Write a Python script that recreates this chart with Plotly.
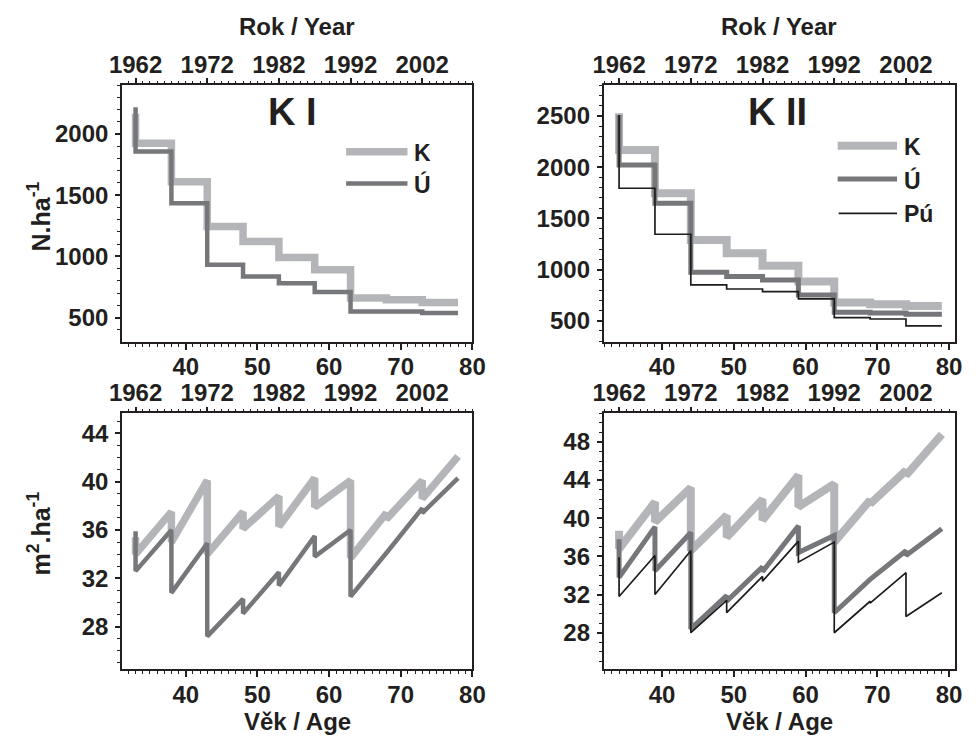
import plotly.graph_objects as go

W, H = 978, 736
OFF = 8  # default page body margin of the exported html
FONT = "Liberation Sans, Arial, sans-serif"
TXT = "#231f20"
FR = "#231f20"
C_K = "#b4b5b8"
C_U = "#76777a"
C_P = "#1c1c1c"

# ---------------- data ----------------
# Stand K I  (age, value before thinning, value after thinning)
ki_age = [33, 38, 43, 48, 53, 58, 63, 68, 73, 78]
ki_N_K_before = [2166, 1925, 1611, 1244, 1122, 991, 891, 660, 646, 624]
ki_N_K_after = [1925, 1611, 1244, 1122, 991, 891, 660, 646, 624, None]
ki_N_U_before = [2218, 1856, 1435, 932, 836, 782, 709, 551, 551, 538]
ki_N_U_after = [1856, 1435, 932, 836, 782, 709, 551, 551, 538, None]
ki_G_K_before = [35.4, 37.5, 40.1, 37.5, 38.8, 40.3, 40.1, 37.4, 40.1, 42.1]
ki_G_K_after = [34.0, 35.0, 34.0, 36.1, 36.3, 37.9, 33.7, 36.9, 38.6, None]
ki_G_U_before = [35.9, 36.0, 34.9, 30.3, 32.5, 35.5, 36.0, 34.1, 37.8, 40.3]
ki_G_U_after = [32.6, 30.8, 27.2, 29.1, 31.4, 33.8, 30.5, 34.1, 37.4, None]

# Stand K II
kii_age = [34, 39, 44, 49, 54, 59, 64, 69, 74, 79]
kii_N_K_before = [2526, 2168, 1745, 1289, 1159, 1038, 882, 677, 661, 645]
kii_N_K_after = [2168, 1745, 1289, 1159, 1038, 882, 677, 661, 645, None]
kii_N_U_before = [2510, 2021, 1647, 973, 931, 898, 752, 583, 576, 563]
kii_N_U_after = [2021, 1647, 973, 931, 898, 752, 583, 576, 563, None]
kii_N_P_before = [2510, 1794, 1345, 850, 810, 784, 713, 530, 517, 449]
kii_N_P_after = [1794, 1345, 850, 810, 784, 713, 530, 517, 449, None]
kii_G_K_before = [38.7, 41.7, 43.2, 40.3, 42.0, 44.5, 43.6, 41.9, 45.0, 48.8]
kii_G_K_after = [36.8, 39.6, 36.6, 38.0, 39.8, 41.2, 37.5, 41.5, 44.5, None]
kii_G_U_before = [37.8, 39.1, 38.5, 31.9, 34.9, 39.2, 38.2, 33.6, 36.6, 38.9]
kii_G_U_after = [33.8, 34.5, 28.4, 31.3, 34.4, 36.4, 30.1, 33.6, 36.1, None]
kii_G_P_before = [35.9, 36.1, 36.6, 31.4, 33.9, 37.6, 37.5, 31.3, 34.3, 32.2]
kii_G_P_after = [31.8, 32.0, 28.0, 30.1, 33.4, 35.4, 28.0, 31.1, 29.7, None]

age_ticks = [40, 50, 60, 70, 80]
year_ticks = [1962, 1972, 1982, 1992, 2002]
N_ticks_I = [500, 1000, 1500, 2000]
N_ticks_II = [500, 1000, 1500, 2000, 2500]
G_ticks_I = [28, 32, 36, 40, 44]
G_ticks_II = [28, 32, 36, 40, 44, 48]


def path(ages, before, after):
    xs, ys = [], []
    for a, b, c in zip(ages, before, after):
        xs.append(a)
        ys.append(b)
        if c is not None:
            xs.append(a)
            ys.append(c)
    return xs, ys


fig = go.Figure()


def add(ages, before, after, color, width, xa, ya):
    xs, ys = path(ages, before, after)
    fig.add_trace(go.Scatter(x=xs, y=ys, mode="lines", xaxis=xa, yaxis=ya,
                             line=dict(color=color, width=width),
                             showlegend=False, hoverinfo="skip"))


add(ki_age, ki_N_K_before, ki_N_K_after, C_K, 7.5, "x", "y")
add(ki_age, ki_N_U_before, ki_N_U_after, C_U, 4.5, "x", "y")
add(kii_age, kii_N_K_before, kii_N_K_after, C_K, 8, "x2", "y2")
add(kii_age, kii_N_U_before, kii_N_U_after, C_U, 5, "x2", "y2")
add(kii_age, kii_N_P_before, kii_N_P_after, C_P, 1.7, "x2", "y2")
add(ki_age, ki_G_K_before, ki_G_K_after, C_K, 7.5, "x3", "y3")
add(ki_age, ki_G_U_before, ki_G_U_after, C_U, 4.5, "x3", "y3")
add(kii_age, kii_G_K_before, kii_G_K_after, C_K, 8, "x4", "y4")
add(kii_age, kii_G_U_before, kii_G_U_after, C_U, 5, "x4", "y4")
add(kii_age, kii_G_P_before, kii_G_P_after, C_P, 1.7, "x4", "y4")

# helper (empty) traces so that the year axes are created
for xa, ya in [("x5", "y"), ("x6", "y2"), ("x7", "y3"), ("x8", "y4")]:
    fig.add_trace(go.Scatter(x=[], y=[], xaxis=xa, yaxis=ya, showlegend=False,
                             hoverinfo="skip"))


def px_x(p):
    return (p - OFF) / W


def px_y(p):
    return 1 - (p - OFF) / H


dom_L = [px_x(111.7), px_x(471.7)]
dom_R = [px_x(606.5), px_x(968.0)]
dom_T = [px_y(341.7), px_y(85.0)]
dom_B = [px_y(669.0), px_y(413.3)]

tickfont = dict(family=FONT, size=24, color=TXT, weight="bold")


def xage(domain, rng, anchor):
    return dict(domain=domain, range=rng, anchor=anchor, showline=True, linecolor=FR,
                linewidth=1.6, mirror=False, ticks="outside", ticklen=6, tickwidth=1.5,
                tickcolor=FR, tickmode="array", tickvals=age_ticks, showgrid=False,
                zeroline=False, tickfont=tickfont, fixedrange=True, ticklabelstandoff=-3,
                minor=dict(ticks="outside", ticklen=3.5, tickwidth=1, tickcolor=FR,
                           tick0=0, dtick=1, showgrid=False))


def xyear(domain, rng, anchor, over):
    return dict(domain=domain, range=rng, anchor=anchor, overlaying=over, side="top",
                showline=True, linecolor=FR, linewidth=1.6, ticks="outside", ticklen=5,
                tickwidth=1.5, tickcolor=FR, tickmode="array", tickvals=year_ticks,
                showgrid=False, zeroline=False, tickfont=tickfont, fixedrange=True,
                ticklabelstandoff=-4,
                minor=dict(ticks="outside", ticklen=2.5, tickwidth=1, tickcolor=FR,
                           tick0=1962, dtick=1, showgrid=False))


def yax(domain, rng, anchor, vals, mdt):
    return dict(domain=domain, range=rng, anchor=anchor, showline=True, linecolor=FR,
                linewidth=1.6, mirror=True, ticks="outside", ticklen=5, tickwidth=1.5,
                tickcolor=FR, tickmode="array", tickvals=vals, showgrid=False,
                zeroline=False, tickfont=tickfont, fixedrange=True, ticklabelstandoff=2,
                minor=dict(ticks="outside", ticklen=3, tickwidth=1, tickcolor=FR,
                           tick0=0, dtick=mdt, showgrid=False))


rng_L = [31.1, 80.0]
rng_R = [31.84, 80.9]
off_L = 1929
off_R = 1928

fig.update_layout(
    width=W, height=H, autosize=False,
    margin=dict(l=0, r=0, t=0, b=0),
    paper_bgcolor="white", plot_bgcolor="white",
    showlegend=False,
    xaxis=xage(dom_L, rng_L, "y"),
    xaxis2=xage(dom_R, rng_R, "y2"),
    xaxis3=xage(dom_L, rng_L, "y3"),
    xaxis4=xage(dom_R, rng_R, "y4"),
    xaxis5=xyear(dom_L, [rng_L[0] + off_L, rng_L[1] + off_L], "y", "x"),
    xaxis6=xyear(dom_R, [rng_R[0] + off_R, rng_R[1] + off_R], "y2", "x2"),
    xaxis7=xyear(dom_L, [rng_L[0] + off_L, rng_L[1] + off_L], "y3", "x3"),
    xaxis8=xyear(dom_R, [rng_R[0] + off_R, rng_R[1] + off_R], "y4", "x4"),
    yaxis=yax(dom_T, [304, 2400], "x", N_ticks_I, 100),
    yaxis2=yax(dom_T, [295, 2803], "x2", N_ticks_II, 100),
    yaxis3=yax(dom_B, [24.5, 45.66], "x3", G_ticks_I, 1),
    yaxis4=yax(dom_B, [24.2, 51.0], "x4", G_ticks_II, 1),
)

anns = []


def ann(text, x, y, size=23, angle=0, xanchor="center", yanchor="middle"):
    anns.append(dict(text=text, x=px_x(x), y=px_y(y), xref="paper", yref="paper",
                     showarrow=False, textangle=angle, xanchor=xanchor, yanchor=yanchor,
                     borderpad=0,
                     font=dict(family=FONT, size=size, color=TXT, weight="bold")))


ann("Rok / Year", 291.7, 27, size=24)
ann("Rok / Year", 787.0, 27, size=24)
ann("Věk / Age", 291.7, 721, size=24)
ann("Věk / Age", 787.0, 721, size=24)
ann("N.ha<sup>-1</sup>", 27, 216, size=25, angle=-90)
ann("m<sup>2</sup>.ha<sup>-1</sup>", 27, 533, size=25, angle=-90)
ann("K I", 286.7, 112, size=38)
ann("K II", 785.0, 112, size=38)

# legends
shapes = []


def leg(x0, x1, y, color, width, label):
    shapes.append(dict(type="line", xref="paper", yref="paper", x0=px_x(x0), x1=px_x(x1),
                       y0=px_y(y), y1=px_y(y), line=dict(color=color, width=width)))
    ann(label, x1 + 6, y + 1, size=23, xanchor="left")


leg(342, 405, 151.7, C_K, 7.5, "K")
leg(342, 405, 183.5, C_U, 4.5, "Ú")
leg(847, 908, 145.7, C_K, 8, "K")
leg(847, 908, 179.0, C_U, 5, "Ú")
leg(848, 908, 213.3, C_P, 1.7, "Pú")

fig.update_layout(annotations=anns, shapes=shapes)

fig.write_html("out.html")
